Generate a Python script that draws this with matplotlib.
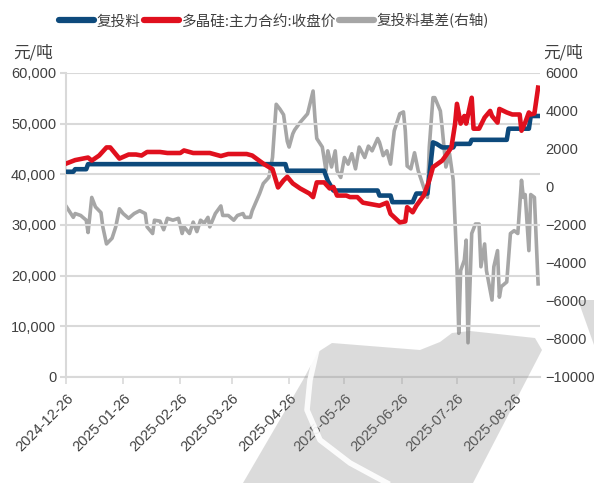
import pandas as pd
import matplotlib.pyplot as plt
import matplotlib.dates as mdates
from matplotlib.patches import Polygon
from matplotlib.ticker import FuncFormatter, MultipleLocator

plt.rcParams['font.family'] = ['Noto Sans CJK SC', 'DejaVu Sans']

# 复投料 (元/吨)
blue_dates = ['2024-12-26', '2024-12-30', '2024-12-31', '2025-01-06', '2025-01-07',
              '2025-04-24', '2025-04-25', '2025-05-15', '2025-05-17', '2025-05-20',
              '2025-06-13', '2025-06-14', '2025-06-20', '2025-06-21', '2025-07-02',
              '2025-07-04', '2025-07-10', '2025-07-13', '2025-07-15', '2025-07-18',
              '2025-07-24', '2025-07-25', '2025-08-02', '2025-08-03', '2025-08-22',
              '2025-08-23', '2025-09-03', '2025-09-04', '2025-09-08']
blue_vals = [40500, 40500, 41000, 41000, 42000,
             42000, 40700, 40700, 38700, 36800,
             36800, 35800, 35800, 34500, 34500,
             36200, 36200, 46300, 46000, 45300,
             45300, 46000, 46000, 46800, 46800,
             49000, 49000, 51500, 51500]

# 多晶硅:主力合约:收盘价
red_dates = ['2024-12-26', '2024-12-31', '2025-01-07', '2025-01-09', '2025-01-13',
             '2025-01-17', '2025-01-19', '2025-01-24', '2025-01-29', '2025-02-02',
             '2025-02-05', '2025-02-08', '2025-02-15', '2025-02-19', '2025-02-26',
             '2025-02-28', '2025-03-05', '2025-03-14', '2025-03-20', '2025-03-24',
             '2025-04-03', '2025-04-06', '2025-04-12', '2025-04-17', '2025-04-20',
             '2025-04-23', '2025-04-25', '2025-04-28', '2025-05-02', '2025-05-07',
             '2025-05-09', '2025-05-11', '2025-05-15', '2025-05-18', '2025-05-20',
             '2025-05-22', '2025-05-27', '2025-05-29', '2025-06-02', '2025-06-05',
             '2025-06-14', '2025-06-18', '2025-06-20', '2025-06-25', '2025-06-28',
             '2025-06-29', '2025-07-02', '2025-07-04', '2025-07-08', '2025-07-11',
             '2025-07-13', '2025-07-18', '2025-07-20', '2025-07-23', '2025-07-25',
             '2025-07-26', '2025-07-28', '2025-07-30', '2025-07-31', '2025-08-03',
             '2025-08-04', '2025-08-07', '2025-08-10', '2025-08-13', '2025-08-14',
             '2025-08-17', '2025-08-18', '2025-08-22', '2025-08-25', '2025-08-29',
             '2025-08-30', '2025-09-01', '2025-09-03', '2025-09-04', '2025-09-06',
             '2025-09-08']
red_vals = [42100, 42800, 43300, 42700, 43700,
            45300, 45300, 43100, 43900, 43900,
            43700, 44400, 44400, 44200, 44200,
            44700, 44200, 44200, 43600, 44000,
            44000, 43700, 42100, 41000, 37400,
            38800, 39500, 38200, 37200, 36200,
            35500, 38400, 38400, 37200, 37500,
            35800, 35800, 35500, 35500, 34400,
            33800, 34400, 32200, 30500, 30700,
            33500, 32500, 33800, 35800, 38800,
            41400, 42700, 43700, 45300, 50000,
            53900, 50000, 51500, 50000, 55100,
            49000, 49000, 51200, 52500, 51500,
            50200, 52900, 52200, 51800, 51800,
            48600, 50200, 52200, 51800, 52000,
            57100]

# 复投料基差(右轴)
gray_dates = ['2024-12-26', '2024-12-30', '2024-12-31', '2025-01-03', '2025-01-06',
              '2025-01-07', '2025-01-09', '2025-01-11', '2025-01-14', '2025-01-15',
              '2025-01-17', '2025-01-20', '2025-01-22', '2025-01-24', '2025-01-26',
              '2025-01-29', '2025-02-01', '2025-02-04', '2025-02-07', '2025-02-08',
              '2025-02-11', '2025-02-12', '2025-02-15', '2025-02-17', '2025-02-19',
              '2025-02-22', '2025-02-25', '2025-02-27', '2025-02-28', '2025-03-03',
              '2025-03-05', '2025-03-07', '2025-03-09', '2025-03-11', '2025-03-13',
              '2025-03-14', '2025-03-17', '2025-03-20', '2025-03-21', '2025-03-24',
              '2025-03-27', '2025-03-29', '2025-04-01', '2025-04-02', '2025-04-05',
              '2025-04-06', '2025-04-10', '2025-04-12', '2025-04-15', '2025-04-17',
              '2025-04-19', '2025-04-21', '2025-04-23', '2025-04-25', '2025-04-26',
              '2025-04-28', '2025-04-29', '2025-05-02', '2025-05-06', '2025-05-09',
              '2025-05-10', '2025-05-11', '2025-05-14', '2025-05-16', '2025-05-17',
              '2025-05-19', '2025-05-21', '2025-05-22', '2025-05-24', '2025-05-26',
              '2025-05-28', '2025-05-30', '2025-06-01', '2025-06-03', '2025-06-06',
              '2025-06-08', '2025-06-10', '2025-06-13', '2025-06-14', '2025-06-16',
              '2025-06-18', '2025-06-20', '2025-06-22', '2025-06-25', '2025-06-27',
              '2025-06-28', '2025-06-29', '2025-07-01', '2025-07-03', '2025-07-05',
              '2025-07-08', '2025-07-10', '2025-07-11', '2025-07-13', '2025-07-14',
              '2025-07-17', '2025-07-18', '2025-07-20', '2025-07-22', '2025-07-24',
              '2025-07-26', '2025-07-27', '2025-07-28', '2025-07-30', '2025-07-31',
              '2025-08-01', '2025-08-03', '2025-08-05', '2025-08-07', '2025-08-08',
              '2025-08-10', '2025-08-11', '2025-08-14', '2025-08-15', '2025-08-17',
              '2025-08-18', '2025-08-19', '2025-08-22', '2025-08-24', '2025-08-26',
              '2025-08-28', '2025-08-30', '2025-08-31', '2025-09-01', '2025-09-03',
              '2025-09-04', '2025-09-06', '2025-09-08']
gray_vals = [-1000, -1600, -1400, -1500, -1750,
             -2400, -550, -1050, -1350, -2100,
             -3000, -2700, -2100, -1150, -1400,
             -1650, -1400, -1250, -1400, -2100,
             -2450, -1750, -1800, -2250, -1650,
             -1750, -1650, -2450, -2100, -2450,
             -1850, -2350, -1750, -1900, -1600,
             -2100, -1400, -1000, -1500, -1500,
             -1750, -1500, -1400, -1600, -1600,
             -1250, -350, 180, 500, 1550,
             4350, 4100, 3800, 2400, 2100,
             2800, 3000, 3400, 3850, 5050,
             3650, 2550, 2100, 850, 1900,
             1050, 1900, 850, 500, 1550,
             1200, 1750, 950, 2100, 1550,
             2150, 1900, 2550, 2350, 1650,
             1900, 1200, 2950, 3850, 3950,
             2950, 1100, 950, 1800, 850,
             -20, -550, 2100, 4700, 4700,
             4000, 3100, 1050, 1750, 350,
             -4200, -7700, -4400, -3850, -2800,
             -8200, -2450, -1950, -1950, -4200,
             -3000, -4400, -5950, -4200, -3350,
             -5800, -5250, -5000, -2450, -2300,
             -2450, 350, -550, -400, -3350,
             -400, -550, -5100]

tick_dates = ['2024-12-26', '2025-01-26', '2025-02-26', '2025-03-26', '2025-04-26',
              '2025-05-26', '2025-06-26', '2025-07-26', '2025-08-26']

c_blue = '#0d4a7c'
c_red = '#e0101e'
c_gray = '#a6a6a6'
c_grid = '#d9d9d9'
c_text = '#404040'

fig = plt.figure(figsize=(5.94, 4.83), dpi=100)
ax = fig.add_axes([0.111, 0.2195, 0.798, 0.6295])
ax2 = ax.twinx()

l1, = ax.plot(pd.to_datetime(blue_dates), blue_vals, color=c_blue, lw=3.3, zorder=3)
l2, = ax.plot(pd.to_datetime(red_dates), red_vals, color=c_red, lw=3.3, zorder=4)
l3, = ax2.plot(pd.to_datetime(gray_dates), gray_vals, color=c_gray, lw=2.6)

ax.set_zorder(ax2.get_zorder() + 1)
ax.patch.set_visible(False)

ax.set_ylim(0, 60000)
ax.yaxis.set_major_locator(MultipleLocator(10000))
ax.yaxis.set_major_formatter(FuncFormatter(lambda v, p: f'{int(v):,}'))
ax2.set_ylim(-10000, 6000)
ax2.yaxis.set_major_locator(MultipleLocator(2000))
ax.set_xlim(pd.Timestamp('2024-12-26'), pd.Timestamp('2025-09-09'))

ax.set_xticks(pd.to_datetime(tick_dates))
ax.xaxis.set_major_formatter(mdates.DateFormatter('%Y-%m-%d'))

num_font = ['Liberation Sans', 'DejaVu Sans']
for t in ax.get_xticklabels():
    t.set_rotation(45)
    t.set_ha('right')
    t.set_rotation_mode('anchor')
ax.tick_params(axis='x', length=5, width=1.2, color=c_grid, pad=5,
               labelsize=10.5, labelcolor=c_text)
ax.tick_params(axis='y', length=4, width=1.5, color=c_grid, pad=3,
               labelsize=10.5, labelcolor=c_text)
ax2.tick_params(axis='y', length=0, pad=4, labelsize=10.5, labelcolor=c_text)
for t in ax.get_xticklabels() + ax.get_yticklabels() + ax2.get_yticklabels():
    t.set_family(num_font)

ax.grid(axis='y', color=c_grid, lw=1.5)
ax.set_axisbelow(True)
for a in (ax, ax2):
    for s in ('top', 'right', 'left', 'bottom'):
        a.spines[s].set_visible(False)
for s in ('left', 'bottom'):
    ax.spines[s].set_visible(True)
    ax.spines[s].set_color(c_grid)
    ax.spines[s].set_linewidth(1.5)

fig.text(13 / 594, 1 - 58 / 483, '元/吨', fontsize=12, color=c_text, va='baseline')
fig.text(543 / 594, 1 - 58 / 483, '元/吨', fontsize=12, color=c_text, va='baseline')

leg = fig.legend([l1, l2, l3], ['复投料', '多晶硅:主力合约:收盘价', '复投料基差(右轴)'],
                 loc='center', bbox_to_anchor=(274 / 594, 1 - 21 / 483), ncol=3,
                 frameon=False, fontsize=10.5, handlelength=2.4, handletextpad=0.2,
                 columnspacing=0.2, labelcolor=c_text)
for h in leg.legend_handles:
    h.set_linewidth(4.5)
    h.set_solid_capstyle('round')

# watermark
def px(pts):
    return [(x / 594, 1 - y / 483) for x, y in pts]

wm = Polygon(px([(243, 483), (303, 380), (318, 352), (332, 343), (420, 350),
                 (440, 342), (452, 333), (470, 331), (535, 338), (542, 350),
                 (473, 483)]),
             closed=True, transform=fig.transFigure, facecolor='#8a8a8a',
             edgecolor='none', alpha=0.3, zorder=10)
fig.patches.append(wm)
wm2 = Polygon(px([(578, 300), (594, 300), (594, 345)]), closed=True,
              transform=fig.transFigure, facecolor='#8a8a8a', edgecolor='none',
              alpha=0.3, zorder=10)
fig.patches.append(wm2)
curve = px([(318, 345), (310, 380), (307, 410), (320, 440), (350, 463), (387, 483)])
fig.add_artist(plt.Line2D([p[0] for p in curve], [p[1] for p in curve],
                          transform=fig.transFigure, color='white', lw=4,
                          alpha=0.9, zorder=11))

fig.savefig('out.png', dpi=100)
